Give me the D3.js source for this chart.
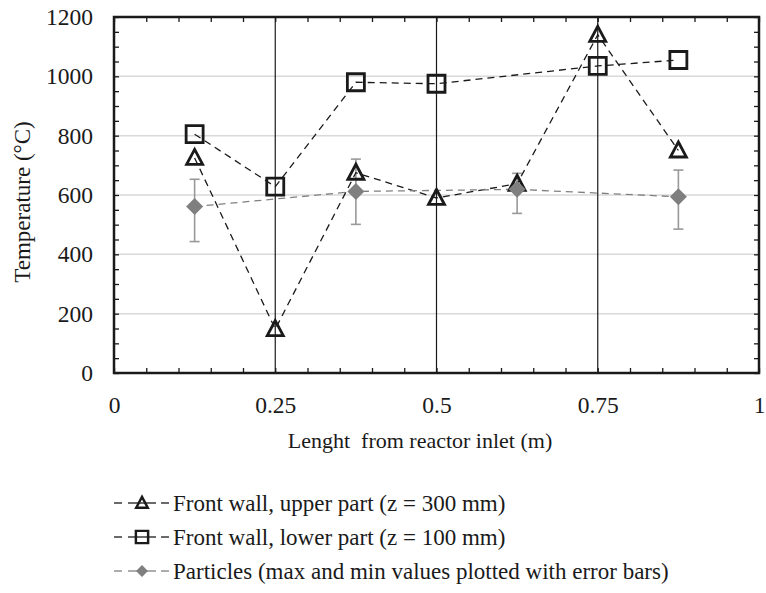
<!DOCTYPE html>
<html><head><meta charset="utf-8">
<script src="https://cdn.jsdelivr.net/npm/d3@7"></script>
</head><body style="margin:0;background:#fff"><svg id="c" width="766" height="593" style="display:block"></svg>
<script>
const xPos = [0.125, 0.25, 0.375, 0.5, 0.625, 0.75, 0.875];
const upperWall = [725, 148, 675, 590, 638, 1140, 750];
const lowerWall = [805, 628, 980, 975, null, 1035, 1055];
const particles = [561, null, 612, null, 619, null, 594];
const particlesMax = [653, null, 721, null, 673, null, 684];
const particlesMin = [443, null, 501, null, 538, null, 485];
const xTicks = [0, 0.25, 0.5, 0.75, 1];
const xTickLabels = ["0", "0.25", "0.5", "0.75", "1"];
const yTicks = [0, 200, 400, 600, 800, 1000, 1200];
const seriesNames = ["Front wall, upper part (z = 300 mm)", "Front wall, lower part (z = 100 mm)", "Particles (max and min values plotted with error bars)"];
const xTitle = "Lenght  from reactor inlet (m)";
const yTitle = "Temperature (°C)";

const FONT = "Liberation Serif";
const INK = "#1a1a1a";
const svg = d3.select("#c").attr("font-family", FONT);
const L = 114, R = 759, T = 17, B = 373;
const x = d3.scaleLinear().domain([0, 1]).range([L, R]);
const y = d3.scaleLinear().domain([0, 1200]).range([B, T]);

svg.append("g").selectAll("line").data(yTicks.filter(v => v > 0 && v < 1200)).join("line")
  .attr("x1", L).attr("x2", R).attr("y1", d => y(d)).attr("y2", d => y(d))
  .attr("stroke", "#d9d9d9").attr("stroke-width", 1.5);
svg.append("g").selectAll("line").data(xTicks.filter(v => v > 0 && v < 1)).join("line")
  .attr("x1", d => x(d)).attr("x2", d => x(d)).attr("y1", T).attr("y2", B)
  .attr("stroke", INK).attr("stroke-width", 1.2);

const xMinor = d3.range(0, 1.0001, 0.05);
const yMinor = d3.range(0, 1200.01, 50);
function minor(axis, tr) {
  svg.append("g").attr("transform", tr).call(axis.tickSize(5).tickFormat(""))
    .call(g => g.select(".domain").remove()).selectAll("line").attr("stroke", INK).attr("stroke-width", 1.3);
}
minor(d3.axisTop(x).tickValues(xMinor), `translate(0,${B})`);
minor(d3.axisBottom(x).tickValues(xMinor), `translate(0,${T})`);
minor(d3.axisRight(y).tickValues(yMinor), `translate(${L},0)`);
minor(d3.axisLeft(y).tickValues(yMinor), `translate(${R},0)`);

const xl = svg.append("g").attr("transform", `translate(0,${B})`)
  .call(d3.axisBottom(x).tickValues(xTicks).tickSize(0).tickPadding(23).tickFormat((d, i) => xTickLabels[i]));
xl.select(".domain").remove();
xl.attr("font-family", FONT).attr("font-size", 23.5);
xl.selectAll("text").attr("fill", INK);
const yl = svg.append("g").attr("transform", `translate(${L},0)`)
  .call(d3.axisLeft(y).tickValues(yTicks).tickSize(0).tickPadding(21).tickFormat(d3.format("d")));
yl.select(".domain").remove();
yl.attr("font-family", FONT).attr("font-size", 23.5);
yl.selectAll("text").attr("fill", INK);

svg.append("rect").attr("x", L).attr("y", T).attr("width", R - L).attr("height", B - T)
  .attr("fill", "none").attr("stroke", INK).attr("stroke-width", 2.5);

svg.append("text").attr("x", 420).attr("y", 448).attr("text-anchor", "middle")
  .attr("font-size", 22).attr("xml:space", "preserve").style("white-space", "pre")
  .attr("fill", INK).text(xTitle);
svg.append("text").attr("transform", `translate(30,${(T + B) / 2 + 7}) rotate(-90)`).attr("text-anchor", "middle")
  .attr("font-size", 23).attr("fill", INK).text(yTitle);

const pts = (vals) => xPos.map((xv, i) => ({ x: xv, v: vals[i], i })).filter(d => d.v != null);
const line = d3.line().x(d => x(d.x)).y(d => y(d.v));

const triPath = (cx, cy) => `M${cx},${cy - 8.5}L${cx + 8},${cy + 6.5}L${cx - 8},${cy + 6.5}Z`;
const sqPath = (cx, cy) => `M${cx - 8.5},${cy - 8.5}h17v17h-17Z`;
const diaPath = (cx, cy) => `M${cx},${cy - 8.5}L${cx + 8.5},${cy}L${cx},${cy + 8.5}L${cx - 8.5},${cy}Z`;

const eb = svg.append("g").attr("stroke", "#999").attr("stroke-width", 1.6);
xPos.forEach((xv, i) => {
  if (particles[i] == null) return;
  const cx = x(xv);
  eb.append("line").attr("x1", cx).attr("x2", cx).attr("y1", y(particlesMax[i])).attr("y2", y(particlesMin[i]));
  eb.append("line").attr("x1", cx - 5).attr("x2", cx + 5).attr("y1", y(particlesMax[i])).attr("y2", y(particlesMax[i]));
  eb.append("line").attr("x1", cx - 5).attr("x2", cx + 5).attr("y1", y(particlesMin[i])).attr("y2", y(particlesMin[i]));
});

svg.append("path").attr("d", line(pts(upperWall))).attr("fill", "none").attr("stroke", INK).attr("stroke-width", 1.3).attr("stroke-dasharray", "7,5");
svg.append("path").attr("d", line(pts(lowerWall))).attr("fill", "none").attr("stroke", INK).attr("stroke-width", 1.3).attr("stroke-dasharray", "7,5");
svg.append("path").attr("d", line(pts(particles))).attr("fill", "none").attr("stroke", "#808080").attr("stroke-width", 1.3).attr("stroke-dasharray", "7,5");

svg.append("g").selectAll("path").data(pts(upperWall)).join("path")
  .attr("d", d => triPath(x(d.x), y(d.v))).attr("fill", "none").attr("stroke", INK).attr("stroke-width", 2.8);
svg.append("g").selectAll("path").data(pts(lowerWall)).join("path")
  .attr("d", d => sqPath(x(d.x), y(d.v))).attr("fill", "none").attr("stroke", INK).attr("stroke-width", 2.8);
svg.append("g").selectAll("path").data(pts(particles)).join("path")
  .attr("d", d => diaPath(x(d.x), y(d.v))).attr("fill", "#7f7f7f").attr("stroke", "none");

const legY = [503, 537, 571];
const legColors = [INK, INK, "#808080"];
const markers = [triPath, sqPath, diaPath];
seriesNames.forEach((name, i) => {
  const g = svg.append("g");
  const cy = legY[i];
  [[114, 122], [128, 156], [161, 169]].forEach(([a, b]) => {
    g.append("line").attr("x1", a).attr("x2", b).attr("y1", cy).attr("y2", cy).attr("stroke", legColors[i]).attr("stroke-width", 1.3);
  });
  const s = i === 2 ? 0.7 : 0.72;
  g.append("path").attr("d", markers[i](0, 0)).attr("transform", `translate(142,${cy}) scale(${s})`)
    .attr("fill", i === 2 ? "#7f7f7f" : "none").attr("stroke", i === 2 ? "none" : INK).attr("stroke-width", 3.4);
  g.append("text").attr("x", 173).attr("y", cy + 8).attr("font-size", 23)
    .attr("fill", INK).text(name);
});
</script></body></html>
